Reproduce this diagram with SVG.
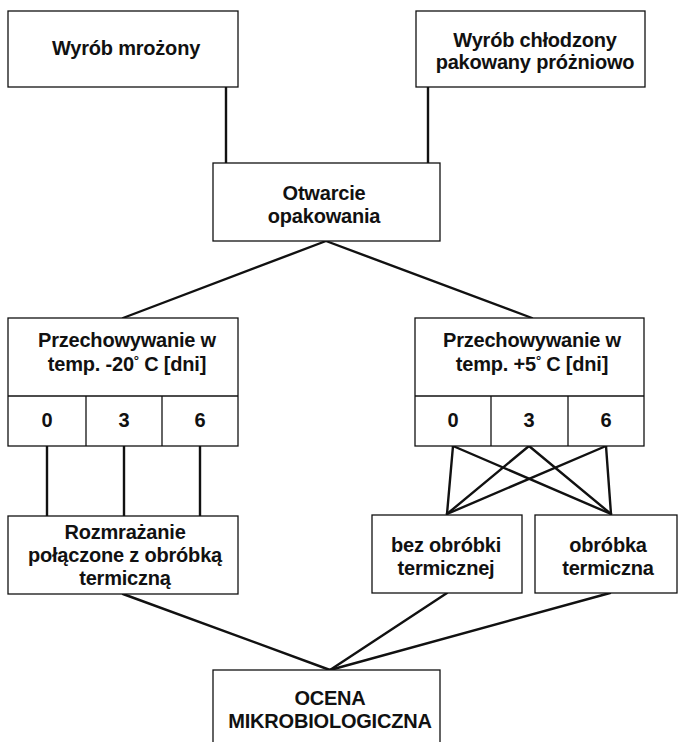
<svg xmlns="http://www.w3.org/2000/svg" width="680" height="742" viewBox="0 0 680 742">
<style>
.box{fill:#fff;stroke:#111;stroke-width:1.3}
.t{font-family:"Liberation Sans",Arial,sans-serif;font-size:20px;font-weight:bold;fill:#111;text-anchor:middle;letter-spacing:-0.2px}
.c{stroke:#111;stroke-width:2.4;fill:none;stroke-linecap:round}
.sup{font-size:13px}
</style>
<rect width="680" height="742" fill="#fff"/>
<g id="connectors">
<line class="c" x1="226" y1="87" x2="226" y2="163"/>
<line class="c" x1="428" y1="87" x2="428" y2="163"/>
<line class="c" x1="326" y1="241" x2="123" y2="318"/>
<line class="c" x1="326" y1="241" x2="532" y2="318"/>
<line class="c" x1="47" y1="446" x2="47" y2="516"/>
<line class="c" x1="124" y1="446" x2="124" y2="516"/>
<line class="c" x1="200" y1="446" x2="200" y2="516"/>
<line class="c" x1="453" y1="446" x2="447" y2="514"/>
<line class="c" x1="453" y1="446" x2="611" y2="514"/>
<line class="c" x1="529" y1="446" x2="447" y2="514"/>
<line class="c" x1="529" y1="446" x2="611" y2="514"/>
<line class="c" x1="606" y1="446" x2="447" y2="514"/>
<line class="c" x1="606" y1="446" x2="611" y2="514"/>
<line class="c" x1="123" y1="594" x2="330" y2="670"/>
<line class="c" x1="447" y1="593" x2="330" y2="670"/>
<line class="c" x1="610" y1="593" x2="330" y2="670"/>
</g>
<g id="wyrob-mrozony">
<rect class="box" x="8" y="11" width="230" height="76"/>
<text class="t" x="126" y="55">Wyrób mrożony</text>
</g>
<g id="wyrob-chlodzony">
<rect class="box" x="416" y="11" width="229" height="76"/>
<text class="t" x="535" y="47">Wyrób chłodzony</text>
<text class="t" x="535" y="69">pakowany próżniowo</text>
</g>
<g id="otwarcie">
<rect class="box" x="213" y="163" width="227" height="78"/>
<text class="t" x="324" y="200">Otwarcie</text>
<text class="t" x="324" y="223">opakowania</text>
</g>
<g id="przechowywanie-20">
<rect class="box" x="8" y="318" width="230" height="128"/>
<line class="box" x1="8" y1="396" x2="238" y2="396"/>
<line class="box" x1="86" y1="396" x2="86" y2="446"/>
<line class="box" x1="162" y1="396" x2="162" y2="446"/>
<text class="t" x="127" y="347">Przechowywanie w</text>
<text class="t" x="127" y="371">temp. -20<tspan class="sup" dy="-6">°</tspan><tspan dy="6"> C [dni]</tspan></text>
<text class="t" x="47" y="427">0</text>
<text class="t" x="124" y="427">3</text>
<text class="t" x="200" y="427">6</text>
</g>
<g id="przechowywanie-5">
<rect class="box" x="415" y="318" width="229" height="128"/>
<line class="box" x1="415" y1="396" x2="644" y2="396"/>
<line class="box" x1="491" y1="396" x2="491" y2="446"/>
<line class="box" x1="568" y1="396" x2="568" y2="446"/>
<text class="t" x="532" y="347">Przechowywanie w</text>
<text class="t" x="532" y="371">temp. +5<tspan class="sup" dy="-6">°</tspan><tspan dy="6"> C [dni]</tspan></text>
<text class="t" x="453" y="427">0</text>
<text class="t" x="529" y="427">3</text>
<text class="t" x="606" y="427">6</text>
</g>
<g id="rozmrazanie">
<rect class="box" x="8" y="516" width="230" height="78"/>
<text class="t" x="125" y="539">Rozmrażanie</text>
<text class="t" x="125" y="562">połączone z obróbką</text>
<text class="t" x="125" y="585">termiczną</text>
</g>
<g id="bez-obrobki">
<rect class="box" x="372" y="515" width="150" height="78"/>
<text class="t" x="446" y="552">bez obróbki</text>
<text class="t" x="446" y="575">termicznej</text>
</g>
<g id="obrobka">
<rect class="box" x="535" y="515" width="142" height="78"/>
<text class="t" x="608" y="552">obróbka</text>
<text class="t" x="608" y="575">termiczna</text>
</g>
<g id="ocena">
<rect class="box" x="213" y="670" width="227" height="80"/>
<text class="t" x="330" y="705">OCENA</text>
<text class="t" x="330" y="728">MIKROBIOLOGICZNA</text>
</g>
</svg>
